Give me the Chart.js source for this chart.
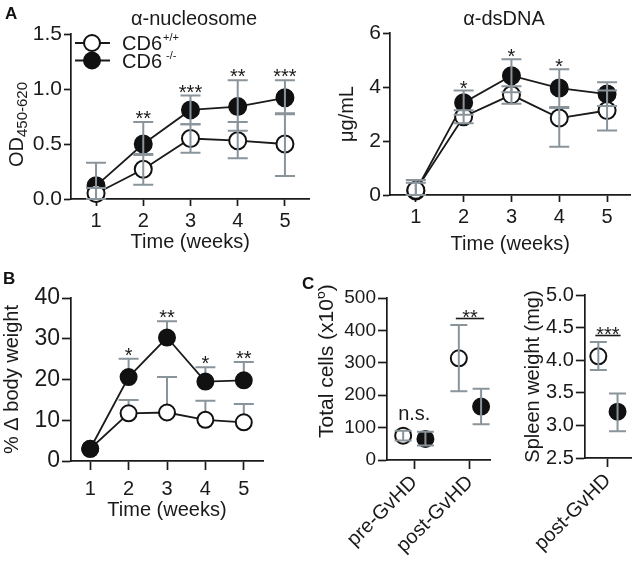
<!DOCTYPE html>
<html><head><meta charset="utf-8">
<script src="https://cdn.jsdelivr.net/npm/chart.js@4.4.1/dist/chart.umd.min.js"></script>
<style>
html,body{margin:0;padding:0;background:#fff}
body{width:641px;height:563px;position:relative;overflow:hidden;font-family:'Liberation Sans',Arial,Helvetica,sans-serif}
canvas{position:absolute;display:block}
.plabel{position:absolute;font:bold 17px 'Liberation Sans',Arial,Helvetica,sans-serif;line-height:1;color:#111}
</style></head><body>
<canvas id="cA1" style="left:0;top:0"></canvas>
<canvas id="cA2" style="left:320px;top:0"></canvas>
<canvas id="cB" style="left:0;top:280px"></canvas>
<canvas id="cC1" style="left:318px;top:284px"></canvas>
<canvas id="cC2" style="left:500px;top:280px"></canvas>
<div class="plabel" style="left:5px;top:5px">A</div>
<div class="plabel" style="left:3px;top:270px">B</div>
<div class="plabel" style="left:302px;top:275px">C</div>
<script>
// ---------------- DATA ----------------
const weeks = [1, 2, 3, 4, 5];

// Panel A left: anti-nucleosome (OD450-620)
const nucTicks = [0, 0.5, 1.0, 1.5];
const nucWT     = [0.05, 0.27, 0.55, 0.53, 0.50];
const nucWTLow  = [0.00, 0.13, 0.42, 0.37, 0.21];
const nucWTHigh = [0.10, 0.41, 0.68, 0.70, 0.78];
const nucKO     = [0.12, 0.50, 0.81, 0.84, 0.92];
const nucKOLow  = [0.00, 0.40, 0.68, 0.62, 0.77];
const nucKOHigh = [0.33, 0.70, 0.94, 1.08, 1.08];
const nucSig    = ['', '**', '***', '**', '***'];

// Panel A right: anti-dsDNA (ug/mL)
const dsTicks = [0, 2, 4, 6];
const dsWT     = [0.18, 2.90, 3.71, 2.85, 3.13];
const dsWTLow  = [0.00, 2.66, 3.38, 1.79, 2.39];
const dsWTHigh = [0.45, 3.14, 4.03, 3.22, 3.87];
const dsKO     = [0.15, 3.42, 4.42, 3.96, 3.74];
const dsKOLow  = [0.00, 2.97, 3.81, 3.26, 3.30];
const dsKOHigh = [0.56, 3.87, 5.03, 4.66, 4.18];
const dsSig    = ['', '*', '*', '*', ''];

// Panel B: % change body weight (upper SEM only)
const bwTicks = [0, 10, 20, 30, 40];
const bwWT     = [3.0, 11.7, 11.9, 10.1, 9.5];
const bwWTHigh = [null, 15.0, 20.6, 14.8, 14.0];
const bwKO     = [3.0, 20.6, 30.3, 19.5, 19.8];
const bwKOHigh = [null, 25.1, 34.3, 23.0, 24.3];
const bwSig    = ['', '*', '**', '*', '**'];

// Panel C left: total cells (x10^6)
const cellGroups = ['pre-GvHD', 'post-GvHD'];
const cellTicks = [0, 100, 200, 300, 400, 500];
const cellWT     = [75, 314];
const cellWTLow  = [60, 212];
const cellWTHigh = [90, 417];
const cellKO     = [65, 165];
const cellKOLow  = [45, 110];
const cellKOHigh = [87, 220];
const cellSig    = ['n.s.', '**'];
const cellBracket = [false, true];

// Panel C right: spleen weight (mg)
const spleenGroups = ['post-GvHD'];
const spleenTicks = [2.5, 3.0, 3.5, 4.0, 4.5, 5.0];
const spleenWT     = [4.06];
const spleenWTLow  = [3.85];
const spleenWTHigh = [4.28];
const spleenKO     = [3.21];
const spleenKOLow  = [2.91];
const spleenKOHigh = [3.49];
const spleenSig    = ['***'];
const spleenBracket = [true];

// ---------------- STYLE ----------------
const FONT = "'Liberation Sans', Arial, Helvetica, sans-serif";
const INK = '#1a1a1a';
const ERR = '#8a949b';
const DODGE = 0.2;
Chart.defaults.font.family = FONT;
Chart.defaults.color = INK;

// ---------------- PLUGINS ----------------
function drawErr(chart, o) {
  const ctx = chart.ctx, ys = chart.scales.y;
  ctx.save();
  ctx.strokeStyle = o.color; ctx.lineWidth = o.width; ctx.lineCap = 'butt';
  chart.data.datasets.forEach((ds, di) => {
    const meta = chart.getDatasetMeta(di);
    meta.data.forEach((pt, i) => {
      const lo = ds.errLow ? ds.errLow[i] : null;
      const hi = ds.errHigh ? ds.errHigh[i] : null;
      if (lo == null && hi == null) return;
      const x = pt.x, y = pt.y;
      const yl = lo == null ? y : ys.getPixelForValue(lo);
      const yh = hi == null ? y : ys.getPixelForValue(hi);
      const c = o.cap / 2;
      ctx.beginPath();
      ctx.moveTo(x, yl); ctx.lineTo(x, yh);
      if (hi != null) { ctx.moveTo(x - c, yh); ctx.lineTo(x + c, yh); }
      if (lo != null) { ctx.moveTo(x - c, yl); ctx.lineTo(x + c, yl); }
      ctx.stroke();
    });
  });
  ctx.restore();
}
const errorBars = {
  id: 'errorBars',
  beforeDatasetsDraw(chart, args, o) { if (o.under) drawErr(chart, o); },
  afterDatasetsDraw(chart, args, o) { if (!o.under) drawErr(chart, o); }
};

const sig = {
  id: 'sig',
  afterDraw(chart, args, o) {
    if (!o.labels) return;
    const ctx = chart.ctx, ys = chart.scales.y;
    ctx.save();
    ctx.fillStyle = INK; ctx.strokeStyle = INK; ctx.lineWidth = 1.6;
    ctx.textAlign = 'center'; ctx.textBaseline = 'alphabetic';
    ctx.font = (o.size || 20) + 'px ' + FONT;
    o.labels.forEach((t, i) => {
      if (!t) return;
      let top = Infinity; const xs = [];
      chart.data.datasets.forEach((ds, di) => {
        const pt = chart.getDatasetMeta(di).data[i];
        const hi = ds.errHigh && ds.errHigh[i] != null ? ys.getPixelForValue(ds.errHigh[i]) : pt.y - 8;
        top = Math.min(top, hi); xs.push(pt.x);
      });
      const x0 = Math.min(...xs), x1 = Math.max(...xs), cx = (x0 + x1) / 2;
      const br = o.bracket ? o.bracket[i] : false;
      if (br) {
        const ly = Math.round(top - o.lineGap) + 0.5;
        ctx.beginPath(); ctx.moveTo(x0 - 3, ly); ctx.lineTo(x1 + 3, ly); ctx.stroke();
        ctx.fillText(t, cx, ly + o.starOnLine);
      } else if (o.plain && t.indexOf('*') < 0) {
        ctx.fillText(t, cx, top - o.plain);
      } else {
        ctx.fillText(t, cx, top + o.offset);
      }
    });
    ctx.restore();
  }
};

const deco = {
  id: 'deco',
  afterDraw(chart, args, o) {
    const ctx = chart.ctx;
    ctx.save();
    ctx.fillStyle = INK;
    if (o.title) {
      ctx.font = '20px ' + FONT; ctx.textAlign = 'center'; ctx.textBaseline = 'alphabetic';
      ctx.fillText(o.title.text, o.title.x, o.title.y);
    }
    if (o.rich) {
      ctx.save();
      ctx.translate(o.rich.x, o.rich.y);
      ctx.rotate(-Math.PI / 2);
      ctx.textAlign = 'left'; ctx.textBaseline = 'alphabetic';
      let cur = 0;
      o.rich.parts.forEach(p => {
        ctx.font = p.s + 'px ' + FONT;
        ctx.fillText(p.t, cur, p.dy || 0);
        cur += ctx.measureText(p.t).width;
      });
      ctx.restore();
    }
    if (o.legend) {
      const L = o.legend;
      L.items.forEach((it, k) => {
        const ds = chart.data.datasets[it.ds];
        const y = L.ys[k];
        ctx.strokeStyle = INK; ctx.lineWidth = 1.8;
        ctx.beginPath(); ctx.moveTo(L.x0, y); ctx.lineTo(L.x1, y); ctx.stroke();
        ctx.beginPath(); ctx.arc(L.mx, y, ds.pointRadius - 0.5, 0, Math.PI * 2);
        ctx.fillStyle = ds.pointBackgroundColor; ctx.fill();
        ctx.lineWidth = ds.pointBorderWidth; ctx.strokeStyle = ds.pointBorderColor; ctx.stroke();
        ctx.fillStyle = INK; ctx.textAlign = 'left'; ctx.textBaseline = 'alphabetic';
        ctx.font = '20px ' + FONT;
        ctx.fillText(it.label, L.tx, y + 7);
        const w = ctx.measureText(it.label).width;
        ctx.font = '11px ' + FONT;
        ctx.fillText(it.sup, L.tx + w + it.supGap, y - 2);
      });
    }
    ctx.restore();
  }
};

// ---------------- HELPERS ----------------
function axisBase(tickLen) {
  return {
    border: { display: true, color: INK, width: 1.7 },
    grid: { drawOnChartArea: false, drawTicks: true, tickLength: tickLen, tickColor: INK, tickWidth: 1.7 }
  };
}
function xAxis(o) {
  return Object.assign(axisBase(o.tickLen || 7), {
    type: 'linear', position: 'bottom', min: o.min, max: o.max,
    afterBuildTicks: s => { s.ticks = o.ticks.map(v => ({ value: v })); },
    afterFit: s => { s.height = o.H - o.bottom; },
    ticks: { color: INK, font: { size: o.fs || 20 }, padding: o.pad == null ? 3 : o.pad, autoSkip: false,
      maxRotation: o.rot || 0, minRotation: o.rot || 0,
      callback: o.names ? ((v, i) => o.names[i]) : (v => String(v)) },
    title: o.title ? { display: true, text: o.title, color: INK, font: { size: 20 }, padding: { top: 0, bottom: o.tpad } } : { display: false }
  });
}
function yAxis(o) {
  return Object.assign(axisBase(o.tickLen || 7), {
    type: 'linear', position: 'left', min: o.min, max: o.max,
    afterBuildTicks: s => { s.ticks = o.ticks.map(v => ({ value: v })); },
    afterFit: s => { s.width = o.left; },
    ticks: { color: INK, font: { size: o.fs || 20 }, padding: o.pad == null ? 2 : o.pad,
      callback: o.dec != null ? (v => Number(v).toFixed(o.dec)) : (v => String(v)) },
    title: o.title ? { display: true, text: o.title, color: INK, font: { size: 20 }, padding: { top: o.tpad, bottom: 0 } } : { display: false }
  });
}
function series(xs, ys, lo, hi, filled, r, line) {
  return {
    data: ys.map((v, i) => ({ x: xs[i], y: v })),
    errLow: lo, errHigh: hi,
    showLine: line, borderColor: INK, borderWidth: 1.8, fill: false,
    pointRadius: r, pointHoverRadius: r, pointBorderWidth: 2,
    pointBackgroundColor: filled ? '#111' : '#fff', pointBorderColor: '#111',
    clip: false
  };
}
function make(id, W, H, area, datasets, scales, plugOpts) {
  const cv = document.getElementById(id);
  cv.width = W; cv.height = H; cv.style.width = W + 'px'; cv.style.height = H + 'px';
  return new Chart(cv.getContext('2d'), {
    type: 'scatter',
    data: { datasets },
    options: {
      responsive: false, animation: false, events: [], devicePixelRatio: 1,
      layout: { padding: { left: 0, top: area.top, right: W - area.right, bottom: 0 } },
      plugins: Object.assign({ legend: { display: false }, tooltip: { enabled: false } }, plugOpts),
      scales
    },
    plugins: [errorBars, sig, deco]
  });
}

// ---------------- PANEL A left ----------------
(() => {
  const W = 320, H = 270, area = { left: 71, right: 315, top: 34, bottom: 199 };
  make('cA1', W, H, area,
    [series(weeks, nucWT, nucWTLow, nucWTHigh, false, 8.5, true),
     series(weeks, nucKO, nucKOLow, nucKOHigh, true, 8.5, true)],
    { x: xAxis({ min: 0.47, max: 5.52, ticks: weeks, H, bottom: area.bottom, title: 'Time (weeks)', tpad: 16 }),
      y: yAxis({ min: 0, max: 1.5, ticks: nucTicks, left: area.left, dec: 1, fs: 21 }) },
    { errorBars: { color: ERR, width: 2, cap: 20, under: false },
      sig: { labels: nucSig, offset: 3, size: 20 },
      deco: { title: { text: 'α-nucleosome', x: 194, y: 25 },
              rich: { x: 22.5, y: 167, parts: [{ t: 'OD', s: 20, dy: 0 }, { t: '450-620', s: 15, dy: 4 }] },
              legend: { x0: 75, x1: 110, mx: 92, tx: 122, ys: [43, 60.5],
                        items: [{ ds: 0, label: 'CD6', sup: '+/+', supGap: 1 }, { ds: 1, label: 'CD6', sup: '-/-', supGap: 4 }] } } });
})();

// ---------------- PANEL A right ----------------
(() => {
  const W = 321, H = 270, area = { left: 70, right: 313, top: 33, bottom: 195 };
  make('cA2', W, H, area,
    [series(weeks, dsWT, dsWTLow, dsWTHigh, false, 8.5, true),
     series(weeks, dsKO, dsKOLow, dsKOHigh, true, 8.5, true)],
    { x: xAxis({ min: 0.46, max: 5.49, ticks: weeks, H, bottom: area.bottom, title: 'Time (weeks)', tpad: 14 }),
      y: yAxis({ min: 0, max: 6, ticks: dsTicks, left: area.left, title: 'μg/mL', tpad: 15, fs: 21 }) },
    { errorBars: { color: ERR, width: 2, cap: 20, under: false },
      sig: { labels: dsSig, offset: 4, size: 20 },
      deco: { title: { text: 'α-dsDNA', x: 184, y: 25 } } });
})();

// ---------------- PANEL B ----------------
(() => {
  const W = 300, H = 283, area = { left: 71, right: 263, top: 18, bottom: 181 };
  make('cB', W, H, area,
    [series(weeks, bwKO, null, bwKOHigh, true, 8, true),
     series(weeks, bwWT, null, bwWTHigh, false, 8, true)],
    { x: xAxis({ min: 0.5, max: 5.5, ticks: weeks, H, bottom: area.bottom, title: 'Time (weeks)', tpad: 41, tickLen: 9, pad: 7 }),
      y: yAxis({ min: 0, max: 40, ticks: bwTicks, left: area.left, title: '% Δ body weight', tpad: 0, tickLen: 9, fs: 23 }) },
    { errorBars: { color: ERR, width: 2, cap: 20, under: true },
      sig: { labels: bwSig, offset: 3, size: 20 },
      deco: {} });
})();

// ---------------- PANEL C left ----------------
(() => {
  const W = 182, H = 279, area = { left: 69, right: 175, top: 14, bottom: 176 };
  const pos = cellGroups.map((g, i) => i + 1);
  make('cC1', W, H, area,
    [series(pos.map(p => p - DODGE), cellWT, cellWTLow, cellWTHigh, false, 8, false),
     series(pos.map(p => p + DODGE), cellKO, cellKOLow, cellKOHigh, true, 8, false)],
    { x: xAxis({ min: 0.51, max: 2.36, ticks: pos, names: cellGroups, H, bottom: area.bottom, tickLen: 9, pad: 2, rot: 45 }),
      y: yAxis({ min: 0, max: 500, ticks: cellTicks, left: area.left, tickLen: 9, fs: 19 }) },
    { errorBars: { color: ERR, width: 2, cap: 17, under: false },
      sig: { labels: cellSig, bracket: cellBracket, lineGap: 7, starOnLine: 5, plain: 11, offset: 3, size: 20 },
      deco: { rich: { x: 15, y: 154, parts: [{ t: 'Total cells (x10', s: 21, dy: 0 }, { t: '6', s: 14, dy: -8 }, { t: ')', s: 21, dy: 0 }] } } });
})();

// ---------------- PANEL C right ----------------
(() => {
  const W = 141, H = 283, area = { left: 72, right: 134, top: 15, bottom: 178 };
  const pos = spleenGroups.map((g, i) => i + 1);
  make('cC2', W, H, area,
    [series(pos.map(p => p - DODGE), spleenWT, spleenWTLow, spleenWTHigh, false, 8, false),
     series(pos.map(p => p + DODGE), spleenKO, spleenKOLow, spleenKOHigh, true, 8, false)],
    { x: xAxis({ min: 0.52, max: 1.48, ticks: pos, names: spleenGroups, H, bottom: area.bottom, tickLen: 9, pad: 2, rot: 45 }),
      y: yAxis({ min: 2.5, max: 5.0, ticks: spleenTicks, left: area.left, dec: 1, title: 'Spleen weight (mg)', tpad: 9, tickLen: 9, fs: 20 }) },
    { errorBars: { color: ERR, width: 2, cap: 17, under: false },
      sig: { labels: spleenSig, bracket: spleenBracket, lineGap: 7, starOnLine: 5, offset: 3, size: 20 },
      deco: {} });
})();
</script>
</body></html>
